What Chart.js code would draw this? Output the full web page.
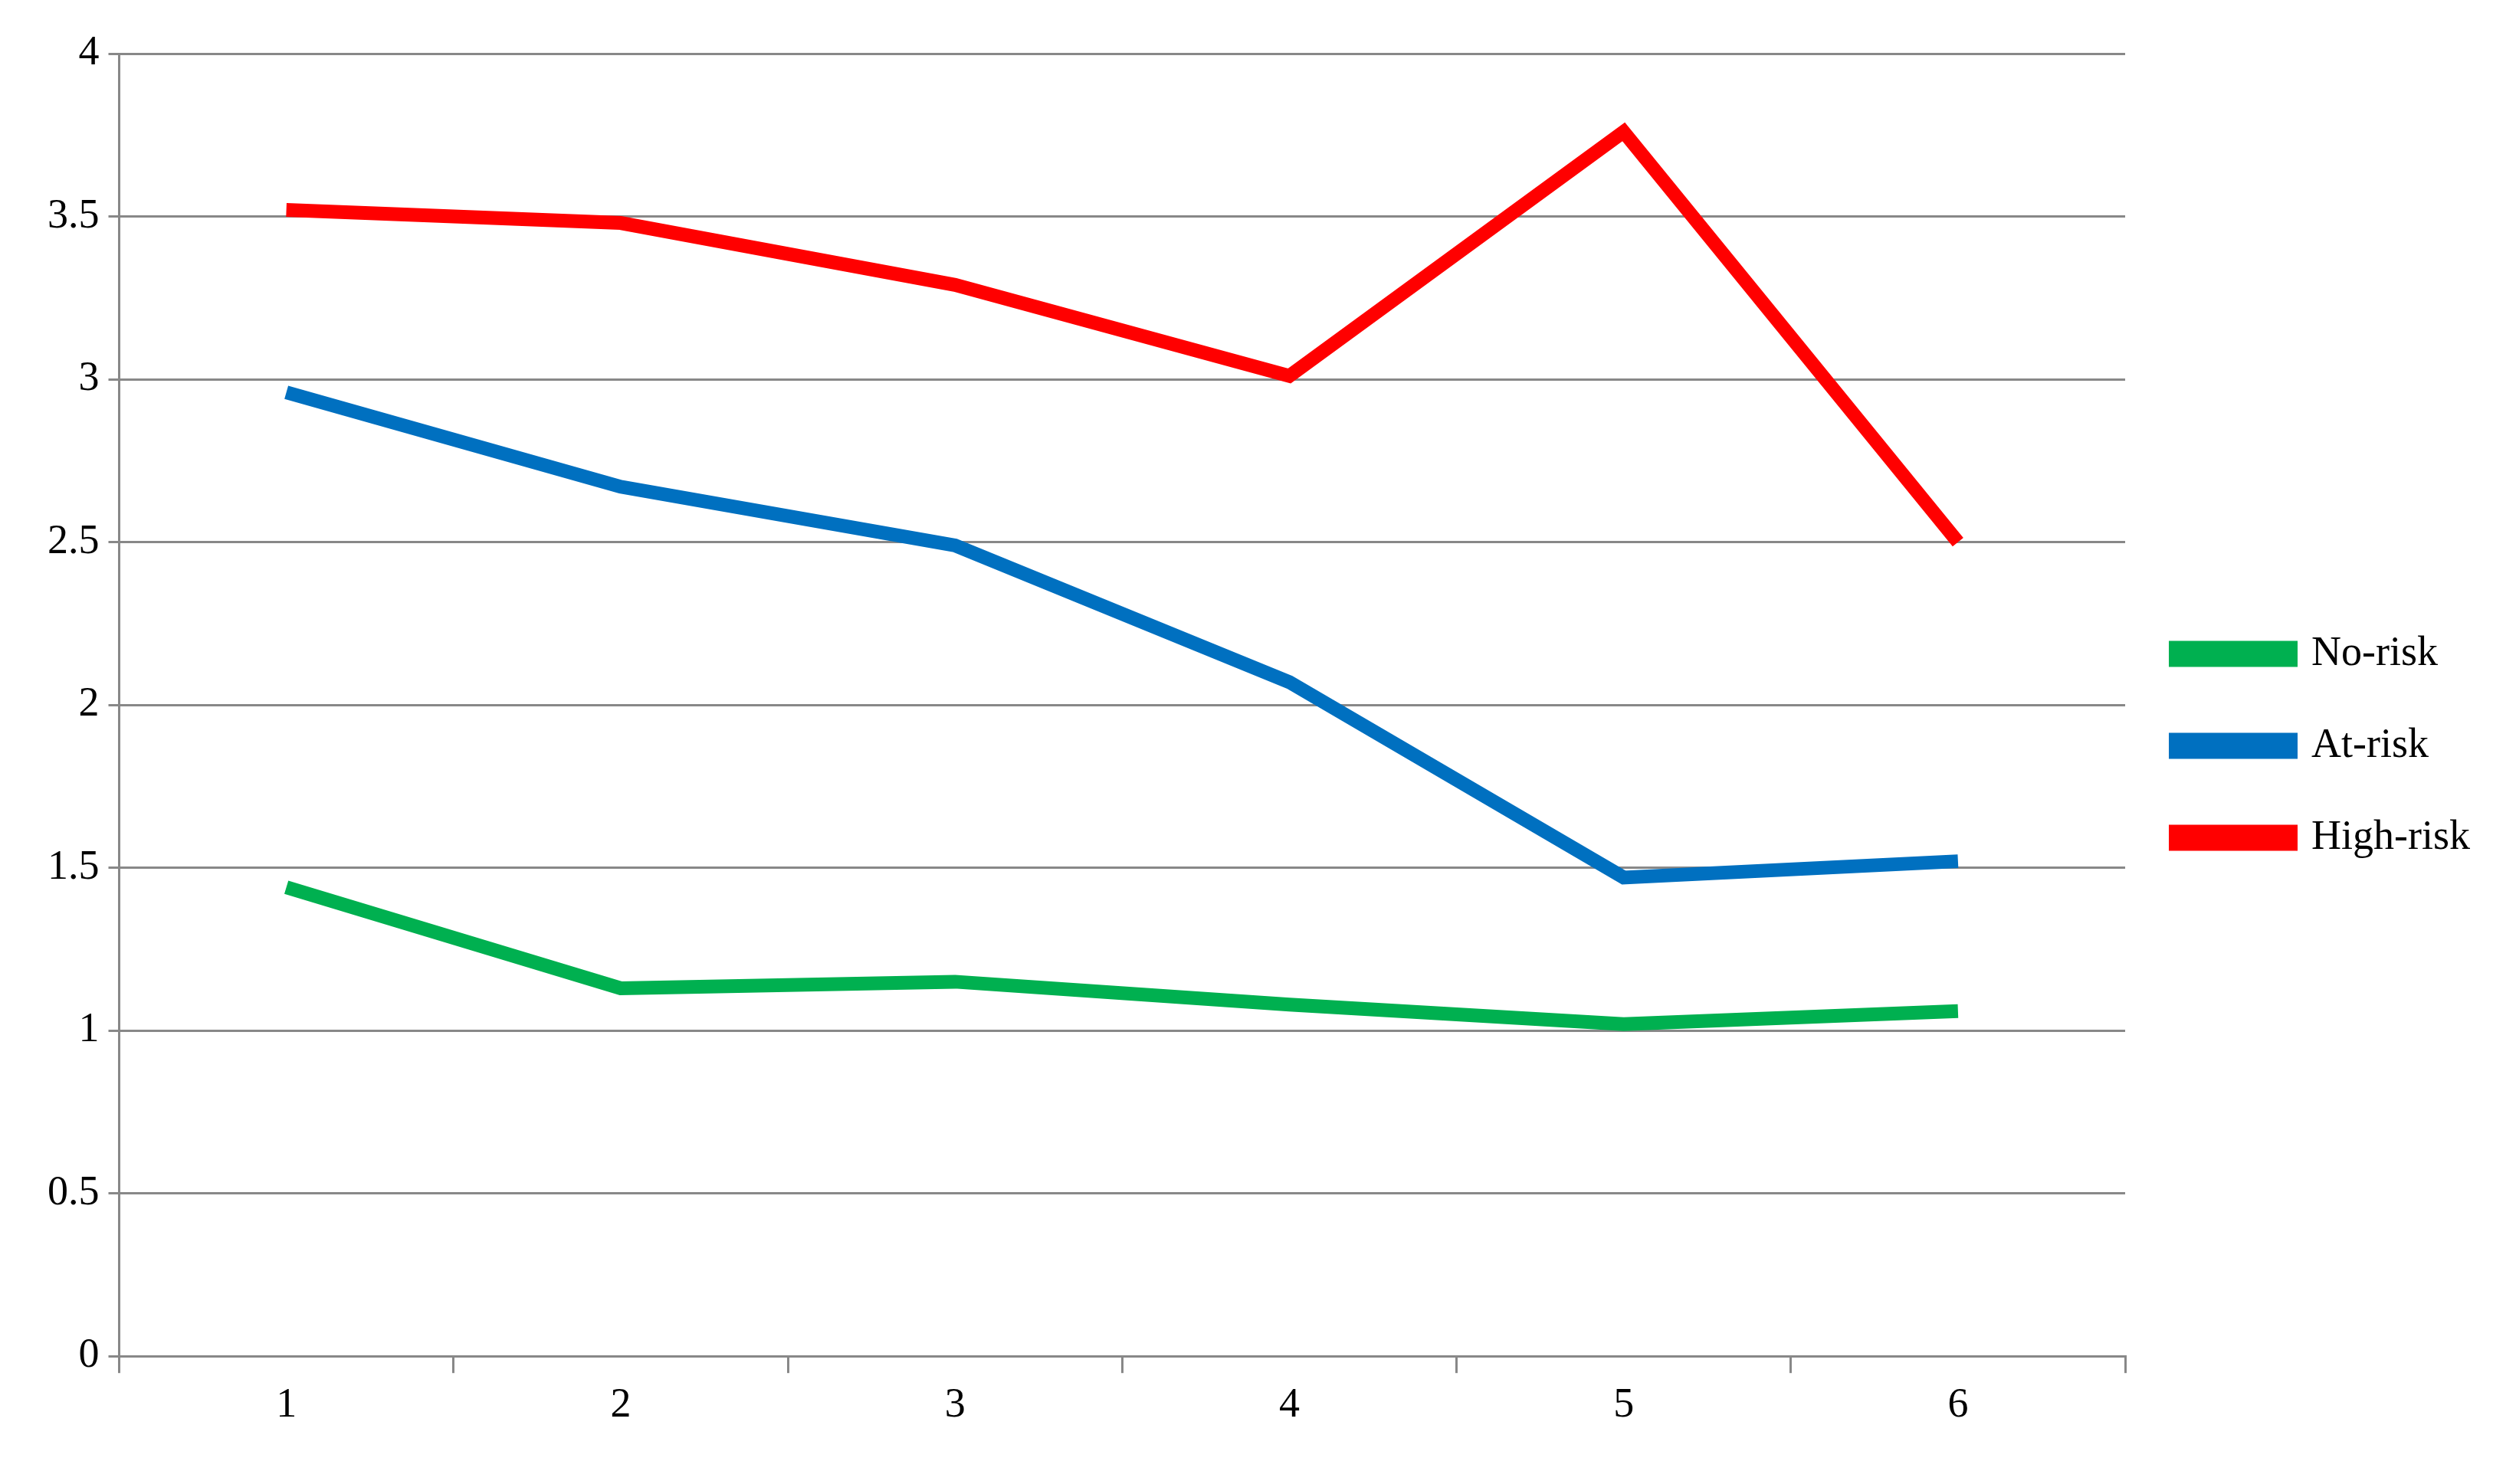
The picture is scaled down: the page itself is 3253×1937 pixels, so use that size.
<!DOCTYPE html>
<html><head><meta charset="utf-8">
<script src="https://cdn.jsdelivr.net/npm/chart.js@4"></script>
<style>html,body{margin:0;padding:0;background:#fff}#w{width:3253px;height:1937px}</style>
</head><body><div id="w"><canvas id="c"></canvas></div>
<script>
const categories = ["1","2","3","4","5","6"];
const noRisk = [1.44, 1.13, 1.15, 1.08, 1.02, 1.06];
const atRisk = [2.96, 2.67, 2.49, 2.07, 1.47, 1.52];
const highRisk = [3.52, 3.48, 3.29, 3.01, 3.76, 2.5];
const yTicks = [0, 0.5, 1, 1.5, 2, 2.5, 3, 3.5, 4];
const font = {family: "Liberation Serif", size: 54};
function ds(label, data, color){return {label, data, borderColor: color, backgroundColor: color, borderWidth: 18, pointRadius: 0, tension: 0, fill: false};}
new Chart(document.getElementById('c'), {
  type: 'line',
  data: {labels: categories, datasets: [ds('No-risk', noRisk, '#00b050'), ds('At-risk', atRisk, '#0070c0'), ds('High-risk', highRisk, '#ff0000')]},
  options: {
    responsive: true, maintainAspectRatio: false, animation: false,
    layout: {padding: {top: 70, right: 20, left: 50, bottom: 60}},
    plugins: {legend: {position: 'right', align: 'center', labels: {font, color: '#000', boxWidth: 150, boxHeight: 16, padding: 66}}, tooltip: {enabled: false}},
    scales: {
      x: {offset: true, grid: {offset: true, drawOnChartArea: false, drawTicks: true, tickLength: 22, color: '#888', lineWidth: 3}, border: {color: '#888', width: 3}, ticks: {font, color: '#000', padding: 10}},
      y: {min: 0, max: 4, afterBuildTicks: a => { a.ticks = yTicks.map(v => ({value: v})); }, grid: {color: '#888', lineWidth: 3, tickLength: 14}, border: {color: '#888', width: 3}, ticks: {font, color: '#000', padding: 12, callback: v => String(v)}}
    }
  }
});
</script></body></html>
